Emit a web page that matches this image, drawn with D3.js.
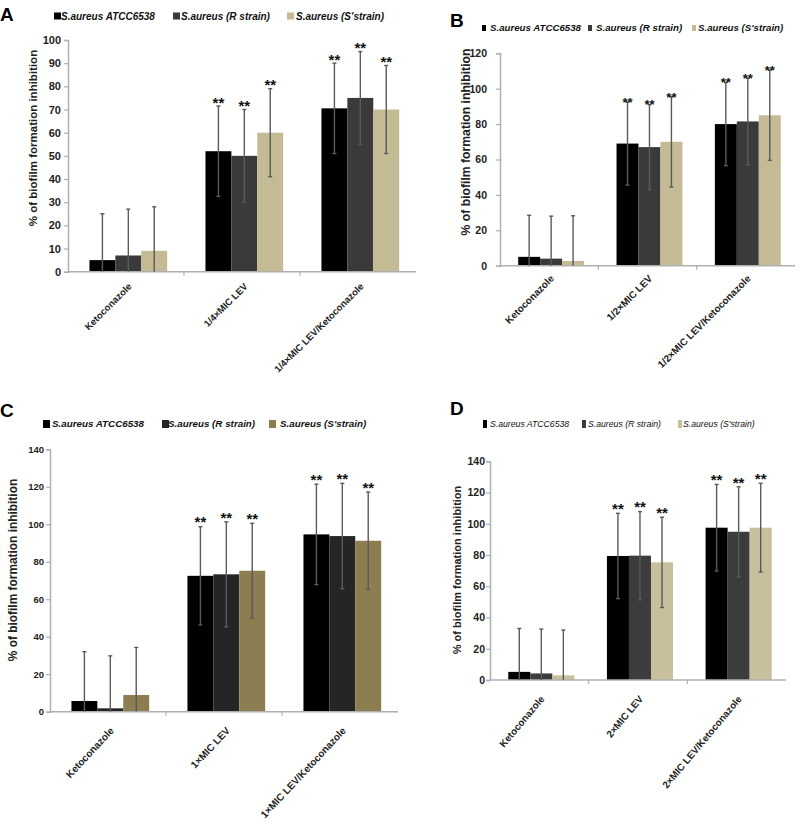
<!DOCTYPE html>
<html>
<head>
<meta charset="utf-8">
<script src="https://cdnjs.cloudflare.com/ajax/libs/d3/7.8.5/d3.min.js"></script>
<style>
  html, body { margin: 0; padding: 0; background: #fff; }
  svg { display: block; font-family: "Liberation Sans", Arial, sans-serif; }
</style>
</head>
<body>
<svg id="chart" width="805" height="828"></svg>
<script>
// ---------------- DATA ----------------
const seriesNames = ["S.aureus ATCC6538", "S.aureus (R strain)", "S.aureus (S'strain)"];
const significance = ["", "**", "**"];  // per category

const categoriesA = ["Ketoconazole", "1/4×MIC LEV", "1/4×MIC LEV/Ketoconazole"];
const categoriesB = ["Ketoconazole", "1/2×MIC LEV", "1/2×MIC LEV/Ketoconazole"];
const categoriesC = ["Ketoconazole", "1×MIC LEV", "1×MIC LEV/Ketoconazole"];
const categoriesD = ["Ketoconazole", "2×MIC LEV", "2×MIC LEV/Ketoconazole"];

// mean % inhibition, rows = categories, columns = series
const meansA = [[5, 7, 9], [52, 50, 60], [70.5, 75, 70]];
const sdA    = [[20, 20, 19], [19.5, 20, 19], [19.5, 20, 19]];
const meansB = [[5, 4, 2.7], [69, 67, 70], [80, 81.5, 85]];
const sdB    = [[23.5, 24, 25.5], [23.5, 24, 25.5], [23.5, 24.5, 25.5]];
const meansC = [[5.7, 1.8, 8.9], [72.5, 73.3, 75.2], [94.6, 93.7, 91.2]];
const sdC    = [[26.3, 28, 25.4], [26.2, 28, 25.3], [26.8, 28.1, 26]];
const meansD = [[5.2, 4.2, 3], [79.4, 79.6, 75.3], [97.5, 94.9, 97.5]];
const sdD    = [[27.8, 28.4, 29], [27.3, 28.2, 28.9], [27.7, 28.8, 28.4]];

const yTicksA = [0, 10, 20, 30, 40, 50, 60, 70, 80, 90, 100];
const yTicksB = [0, 20, 40, 60, 80, 100, 120];
const yTicksC = [0, 20, 40, 60, 80, 100, 120, 140];
const yTicksD = [0, 20, 40, 60, 80, 100, 120, 140];

const yTitle = "% of biofilm formation inhibition";

// ---------------- LAYOUT / STYLE ----------------
const colorsAB = ["#000000", "#3a3a3a", "#c4bb95"];
const colorsC  = ["#000000", "#252525", "#8d7e52"];
const colorsD  = ["#000000", "#3c3c3c", "#c8bf9c"];

const panels = [
  { letter: "A", letterPos: [0, 21], x: [68, 416], y: [271.7, 40], ymax: 100, ticks: yTicksA,
    cats: categoriesA, means: meansA, sds: sdA, colors: colorsAB,
    tickFont: 11, tickGap: 3, labelFont: 9.5, labelOff: [4, 13], rot: -45,
    title: [33, 138, 11.5], starFont: 15, starGap: 5,
    legend: { y: 16, sq: [54, 173, 287], tx: [61, 181, 296], w: 7, h: 7, font: 10, weight: "bold" } },
  { letter: "B", letterPos: [450, 27], x: [500, 795], y: [265.7, 53.3], ymax: 120, ticks: yTicksB,
    cats: categoriesB, means: meansB, sds: sdB, colors: colorsAB,
    tickFont: 10.5, tickGap: 9, labelFont: 9.9, labelOff: [3, 11], rot: -45,
    title: [466, 142, 12.2], starFont: 13, starGap: 1,
    legend: { y: 28, sq: [482, 588, 692], tx: [490, 596, 698], w: 4, h: 6, font: 9.7, weight: "bold" } },
  { letter: "C", letterPos: [0, 417], x: [50, 398], y: [711.7, 449.3], ymax: 140, ticks: yTicksC,
    cats: categoriesC, means: meansC, sds: sdC, colors: colorsC,
    tickFont: 9.5, tickGap: 2, labelFont: 10, labelOff: [4, 17], rot: -47,
    title: [13, 570, 11.9], starFont: 15, starGap: 6,
    legend: { y: 424, sq: [43, 162, 269], tx: [52, 168, 280], w: 7, h: 8, font: 9.8, weight: "bold" } },
  { letter: "D", letterPos: [450, 415], x: [490, 786], y: [680, 461.3], ymax: 140, ticks: yTicksD,
    cats: categoriesD, means: meansD, sds: sdD, colors: colorsD,
    tickFont: 10.5, tickGap: 1, labelFont: 9.8, labelOff: [3, 17], rot: -50,
    title: [457, 570, 11], starFont: 15, starGap: 6,
    legend: { y: 424, sq: [483, 582, 678], tx: [490, 588, 683], w: 4, h: 8, font: 8.7, weight: "normal" } }
];

const svg = d3.select("#chart");
svg.append("rect").attr("width", 805).attr("height", 828).attr("fill", "#fff");

panels.forEach(p => {
  const g = svg.append("g");
  const x0 = d3.scaleBand().domain(p.cats).range(p.x).padding(0);
  const bw = x0.bandwidth();
  const x1 = d3.scaleBand().domain(d3.range(seriesNames.length)).range([bw * 0.185, bw * 0.855]).padding(0);
  const y = d3.scaleLinear().domain([0, p.ymax]).range(p.y);

  // panel letter
  g.append("text").attr("x", p.letterPos[0]).attr("y", p.letterPos[1])
    .attr("font-size", 19).attr("font-weight", "bold").attr("fill", "#000").text(p.letter);

  // legend
  seriesNames.forEach((s, i) => {
    g.append("rect").attr("x", p.legend.sq[i]).attr("y", p.legend.y - p.legend.h / 2)
      .attr("width", p.legend.w).attr("height", p.legend.h).attr("fill", p.colors[i]);
    g.append("text").attr("x", p.legend.tx[i]).attr("y", p.legend.y).attr("dy", "0.35em")
      .attr("font-size", p.legend.font).attr("font-style", "italic").attr("font-weight", p.legend.weight)
      .attr("fill", "#111").text(s);
  });

  // y axis
  const yAxis = d3.axisLeft(y).tickValues(p.ticks).tickSize(4).tickPadding(p.tickGap);
  const ya = g.append("g").attr("transform", `translate(${p.x[0]},0)`).call(yAxis);
  ya.select(".domain").attr("stroke", "#b0b0b0").attr("stroke-width", 1.5);
  ya.selectAll(".tick line").attr("stroke", "#b0b0b0").attr("stroke-width", 1.2);
  ya.selectAll(".tick text").attr("font-size", p.tickFont).attr("font-weight", "bold")
    .attr("font-family", "'Liberation Sans', Arial, sans-serif").attr("fill", "#222");

  // y title
  g.append("text").attr("transform", `translate(${p.title[0]},${p.title[1]}) rotate(-90)`)
    .attr("text-anchor", "middle").attr("dy", "0.35em")
    .attr("font-size", p.title[2]).attr("font-weight", "bold").attr("fill", "#222").text(yTitle);

  // bars
  p.cats.forEach((c, ci) => {
    const gx = x0(c);
    seriesNames.forEach((s, si) => {
      const v = p.means[ci][si];
      g.append("rect").attr("x", gx + x1(si)).attr("y", y(v))
        .attr("width", x1.bandwidth()).attr("height", y(0) - y(v)).attr("fill", p.colors[si]);
    });
  });

  // x axis
  g.append("line").attr("x1", p.x[0]).attr("x2", p.x[1]).attr("y1", y(0)).attr("y2", y(0))
    .attr("stroke", "#b0b0b0").attr("stroke-width", 1.5);
  p.cats.forEach((c, ci) => {
    const bx = x0(c) + bw;
    if (ci < p.cats.length - 1) {
      g.append("line").attr("x1", bx).attr("x2", bx).attr("y1", y(0)).attr("y2", y(0) + 4)
        .attr("stroke", "#b0b0b0").attr("stroke-width", 1.2);
    }
    const cx = x0(c) + bw / 2;
    g.append("text")
      .attr("transform", `translate(${cx + p.labelOff[0]},${y(0) + p.labelOff[1]}) rotate(${p.rot})`)
      .attr("text-anchor", "end").attr("dy", "0.35em")
      .attr("font-size", p.labelFont).attr("font-weight", "bold").attr("fill", "#222").text(c);
  });

  // error bars and stars
  p.cats.forEach((c, ci) => {
    seriesNames.forEach((s, si) => {
      const v = p.means[ci][si], sd = p.sds[ci][si];
      const cx = x0(c) + x1(si) + x1.bandwidth() / 2;
      const top = y(v + sd), bot = y(Math.max(0, v - sd));
      g.append("line").attr("x1", cx).attr("x2", cx).attr("y1", top).attr("y2", bot)
        .attr("stroke", "#5a5a5a").attr("stroke-width", 1.4);
      g.append("line").attr("x1", cx - 2).attr("x2", cx + 2).attr("y1", top).attr("y2", top)
        .attr("stroke", "#5a5a5a").attr("stroke-width", 1.4);
      if (v - sd > 0) {
        g.append("line").attr("x1", cx - 2).attr("x2", cx + 2).attr("y1", bot).attr("y2", bot)
          .attr("stroke", "#5a5a5a").attr("stroke-width", 1.4);
      }
      if (significance[ci]) {
        g.append("text").attr("x", cx).attr("y", top - p.starGap + p.starFont * 0.45)
          .attr("text-anchor", "middle").attr("font-size", p.starFont).attr("font-weight", "bold")
          .attr("fill", "#111").text(significance[ci]);
      }
    });
  });
});
</script>
</body>
</html>
